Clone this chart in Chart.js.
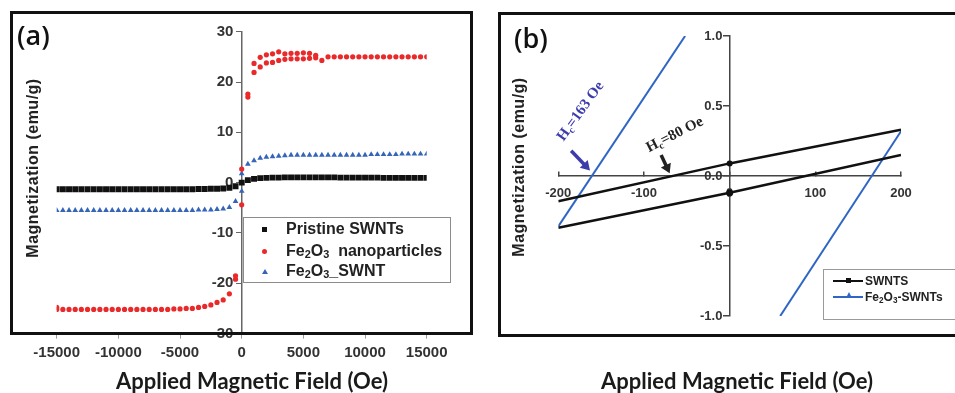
<!DOCTYPE html>
<html>
<head>
<meta charset="utf-8">
<title>Magnetization curves</title>
<script src="https://cdn.jsdelivr.net/npm/chart.js@4.4.1/dist/chart.umd.min.js"></script>
<style>
    body { margin: 0; width: 955px; height: 393px; position: relative; overflow: hidden; background: #fff; font-family: "Liberation Sans", Arial, sans-serif; color: #222; }
    canvas { position: absolute; top: 0; }
    .frame { position: absolute; box-sizing: border-box; border: 3px solid #111; pointer-events: none; }
    .tag { position: absolute; font-family: "Open Sans", sans-serif; font-weight: 600; line-height: 1; color: #111; white-space: nowrap; }
    .xtitle { position: absolute; transform: translateX(-50%); font-family: Lato, sans-serif; font-weight: 700; font-size: 22px; line-height: 23px; white-space: nowrap; color: #1a1a1a; }
    .ytitle { position: absolute; transform: translate(-50%, -50%) rotate(-90deg); font-weight: 700; font-size: 16px; line-height: 18px; letter-spacing: 0.5px; white-space: nowrap; color: #222; }
    .legend { position: absolute; box-sizing: border-box; background: #fff; }
    .legend .txt { position: absolute; font-weight: 700; white-space: nowrap; color: #222; }
    .legend sub { font-size: 68%; vertical-align: -2px; }
    .mk { position: absolute; }
</style>
</head>
<body>

<canvas id="chartA" width="480" height="393" style="left:0"></canvas>
<canvas id="chartB" width="465" height="393" style="left:490px"></canvas>

<div class="frame" style="left:10px;top:11px;width:463px;height:324px"></div>
<div class="frame" style="left:498px;top:12px;width:470px;height:325px;border-width:3.5px"></div>

<div class="tag" style="left:17px;top:21px;font-size:27px">(a)</div>
<div class="tag" style="left:514px;top:24px;font-size:27px">(b)</div>

<div class="ytitle" style="left:33px;top:168px">Magnetization (emu/g)</div>
<div class="ytitle" style="left:519px;top:167px">Magnetization (emu/g)</div>
<div class="xtitle" style="left:252px;top:369px">Applied Magnetic Field (Oe)</div>
<div class="xtitle" style="left:737px;top:369px">Applied Magnetic Field (Oe)</div>

<div class="legend" style="left:243px;top:217px;width:208px;height:66px;border:1.5px solid #8c8c8c">
    <div class="mk" style="left:18px;top:9px;width:5px;height:5px;background:#111"></div>
    <div class="txt" style="left:42px;top:1px;font-size:16px;line-height:20px">Pristine SWNTs</div>
    <div class="mk" style="left:18px;top:30.5px;width:5px;height:5px;border-radius:50%;background:#ea2a2a"></div>
    <div class="txt" style="left:42px;top:23px;font-size:16px;line-height:20px">Fe<sub>2</sub>O<sub>3</sub>&nbsp; nanoparticles</div>
    <div class="mk" style="left:17.5px;top:50.5px;width:0;height:0;border-left:3px solid transparent;border-right:3px solid transparent;border-bottom:5px solid #3565b8"></div>
    <div class="txt" style="left:42px;top:43px;font-size:16px;line-height:20px">Fe<sub>2</sub>O<sub>3</sub>_SWNT</div>
</div>

<div class="legend" style="left:823px;top:269px;width:150px;height:51px;border:1px solid #9a9a9a">
    <div class="mk" style="left:9px;top:9.5px;width:30px;height:2.5px;background:#111"></div>
    <div class="mk" style="left:22px;top:8.3px;width:5px;height:5px;background:#111"></div>
    <div class="txt" style="left:41px;top:3px;font-size:12px;line-height:16px">SWNTS</div>
    <div class="mk" style="left:9px;top:25.5px;width:30px;height:2px;background:#2f65c4"></div>
    <div class="mk" style="left:21.5px;top:22px;width:0;height:0;border-left:3.5px solid transparent;border-right:3.5px solid transparent;border-bottom:6px solid #2f65c4"></div>
    <div class="txt" style="left:41px;top:18.5px;font-size:12px;line-height:16px">Fe<sub>2</sub>O<sub>3</sub>-SWNTs</div>
</div>

<script>
// (a) M-H loops, field in Oe, magnetization in emu/g
const fieldOe = [-15000, -14500, -14000, -13500, -13000, -12500, -12000, -11500, -11000, -10500,
    -10000, -9500, -9000, -8500, -8000, -7500, -7000, -6500, -6000, -5500,
    -5000, -4500, -4000, -3500, -3000, -2500, -2000, -1500, -1000, -500,
    0, 500, 1000, 1500, 2000, 2500, 3000, 3500, 4000, 4500,
    5000, 5500, 6000, 6500, 7000, 7500, 8000, 8500, 9000, 9500,
    10000, 10500, 11000, 11500, 12000, 12500, 13000, 13500, 14000, 14500, 15000];

const pristineSwnt = [-1.3, -1.3, -1.3, -1.3, -1.3, -1.3, -1.3, -1.3, -1.3, -1.3,
    -1.3, -1.3, -1.3, -1.3, -1.3, -1.3, -1.3, -1.3, -1.3, -1.3,
    -1.3, -1.3, -1.3, -1.25, -1.25, -1.2, -1.2, -1.15, -1.0, -0.7,
    0.0, 0.5, 0.75, 0.9, 0.95, 1.0, 1.0, 1.05, 1.05, 1.05,
    1.05, 1.05, 1.05, 1.05, 1.05, 1.05, 1.0, 1.0, 1.0, 1.0,
    1.0, 1.0, 1.0, 0.95, 0.95, 0.95, 0.95, 0.95, 0.95, 0.95, 0.95];

const fe2o3 = [-25.2, -25.2, -25.2, -25.2, -25.2, -25.2, -25.2, -25.2, -25.2, -25.2,
    -25.2, -25.2, -25.2, -25.2, -25.2, -25.2, -25.2, -25.2, -25.2, -25.1,
    -25.1, -25.0, -25.0, -24.8, -24.6, -24.3, -23.8, -23.3, -22.1, -18.5,
    -4.4, 17.0, 21.9, 23.0, 23.8, 23.9, 24.3, 24.5, 24.6, 24.6,
    24.6, 24.7, 24.8, 24.3, 25.0, 25.0, 25.0, 25.0, 25.0, 25.0,
    25.0, 25.0, 25.0, 25.0, 25.0, 25.0, 25.0, 25.0, 25.0, 25.0, 25.0];

// second sweep of the nanoparticles, only where it separates from the first
const fe2o3ReturnField = [-15000, -500, 0, 500, 1000, 1500, 2000, 2500, 3000, 3500, 4000, 4500, 5000, 5500, 6000];
const fe2o3Return = [-24.8, -19.2, 2.7, 17.6, 23.7, 24.9, 25.4, 25.6, 26.0, 25.6, 25.7, 25.7, 25.8, 25.7, 25.3];

const fe2o3Swnt = [-5.5, -5.5, -5.5, -5.5, -5.5, -5.5, -5.5, -5.5, -5.5, -5.5,
    -5.5, -5.5, -5.5, -5.5, -5.5, -5.5, -5.5, -5.5, -5.5, -5.5,
    -5.5, -5.5, -5.5, -5.4, -5.4, -5.4, -5.3, -5.2, -4.9, -3.7,
    -1.7, 3.7, 4.4, 4.9, 5.1, 5.2, 5.3, 5.4, 5.5, 5.5,
    5.5, 5.5, 5.5, 5.5, 5.5, 5.5, 5.5, 5.5, 5.5, 5.5,
    5.5, 5.6, 5.6, 5.6, 5.6, 5.6, 5.7, 5.7, 5.7, 5.7, 5.7];
const fe2o3SwntReturnField = [0];
const fe2o3SwntReturn = [1.8];

const fieldTicksA = [-15000, -10000, -5000, 0, 5000, 10000, 15000];
const magTicksA = [-30, -20, -10, 0, 10, 20, 30];

// (b) low field zoom, field in Oe, magnetization in emu/g
const swntUpperField = [-200, 0, 200];
const swntUpper = [-0.18, 0.09, 0.33];
const swntLowerField = [-200, 0, 200];
const swntLower = [-0.37, -0.12, 0.15];
const fe2o3SwntDescField = [-52, -200];
const fe2o3SwntDesc = [1.0, -0.36];
const fe2o3SwntAscField = [59, 200];
const fe2o3SwntAsc = [-1.0, 0.32];

const fieldTicksB = [-200, -100, 0, 100, 200];
const magTicksB = [-1.0, -0.5, 0.0, 0.5, 1.0];

function toPoints(xs, ys) {
    return xs.map((x, i) => ({ x: x, y: ys[i] }));
}

const tickFontA = { family: '"Liberation Sans", Arial, sans-serif', weight: 'bold', size: 15 };
const tickFontB = { family: '"Liberation Sans", Arial, sans-serif', weight: 'bold', size: 13 };

// a y axis sitting at x = 0 puts its labels flush on the line, two spaces keep the gap
const gap = '  ';

// ---------- panel (a) ----------
const ctxA = document.getElementById('chartA').getContext('2d');
new Chart(ctxA, {
    type: 'scatter',
    data: {
        datasets: [
            { label: 'Fe2O3 nanoparticles', data: toPoints(fieldOe, fe2o3), pointStyle: 'circle', pointRadius: 2.6, backgroundColor: '#ea2a2a', borderColor: '#ea2a2a', borderWidth: 0, order: 1 },
            { label: 'Fe2O3 nanoparticles (return)', data: toPoints(fe2o3ReturnField, fe2o3Return), pointStyle: 'circle', pointRadius: 2.6, backgroundColor: '#ea2a2a', borderColor: '#ea2a2a', borderWidth: 0, order: 1 },
            { label: 'Fe2O3_SWNT', data: toPoints(fieldOe, fe2o3Swnt), pointStyle: 'triangle', pointRadius: 3.3, backgroundColor: '#3565b8', borderColor: '#3565b8', borderWidth: 0, order: 2 },
            { label: 'Fe2O3_SWNT (return)', data: toPoints(fe2o3SwntReturnField, fe2o3SwntReturn), pointStyle: 'triangle', pointRadius: 3.3, backgroundColor: '#3565b8', borderColor: '#3565b8', borderWidth: 0, order: 2 },
            { label: 'Pristine SWNTs', data: toPoints(fieldOe, pristineSwnt), pointStyle: 'rect', pointRadius: 4.2, backgroundColor: '#111', borderColor: '#111', borderWidth: 0, order: 3 }
        ]
    },
    options: {
        responsive: false,
        animation: false,
        layout: { padding: { left: 56.7, right: 53.3, top: 31.7, bottom: 0 } },
        plugins: { legend: { display: false }, tooltip: { enabled: false } },
        scales: {
            x: {
                type: 'linear',
                position: 'bottom',
                min: -15000,
                max: 15000,
                afterBuildTicks: (scale) => { scale.ticks = fieldTicksA.map(v => ({ value: v })); },
                afterFit: (scale) => { scale.height = 393 - 333.6; },
                ticks: { callback: v => String(v), font: tickFontA, color: '#333', padding: 5, maxRotation: 0 },
                grid: { drawOnChartArea: false, tickLength: 5, color: '#999' },
                border: { display: false }
            },
            y: {
                type: 'linear',
                position: { x: 0 },
                min: -30,
                max: 30,
                afterBuildTicks: (scale) => { scale.ticks = magTicksA.map(v => ({ value: v })); },
                ticks: { callback: v => String(v) + gap, font: tickFontA, color: '#333' },
                grid: { drawOnChartArea: false, tickLength: 5, color: '#666' },
                border: { color: '#666', width: 1.5 }
            }
        }
    }
});

// ---------- panel (b) ----------
const hcNotes = [
    { text: ['H', 'c', '=163 Oe'], at: [-194, 0.245], angle: -54, color: '#3c3cab', tail: [-185, 0.18], tip: [-163, 0.04] },
    { text: ['H', 'c', '=80 Oe'], at: [-94, 0.17], angle: -27, color: '#222', tail: [-80, 0.15], tip: [-70, 0.02] }
];

const coercivityNotes = {
    id: 'coercivityNotes',
    afterDatasetsDraw(chart) {
        const { ctx, scales: { x, y } } = chart;
        hcNotes.forEach(n => {
            const x0 = x.getPixelForValue(n.tail[0]), y0 = y.getPixelForValue(n.tail[1]);
            const x1 = x.getPixelForValue(n.tip[0]), y1 = y.getPixelForValue(n.tip[1]);
            const a = Math.atan2(y1 - y0, x1 - x0);
            const head = 9;
            ctx.save();
            ctx.strokeStyle = n.color;
            ctx.fillStyle = n.color;
            ctx.lineWidth = 3.5;
            ctx.beginPath();
            ctx.moveTo(x0, y0);
            ctx.lineTo(x1 - head * 0.8 * Math.cos(a), y1 - head * 0.8 * Math.sin(a));
            ctx.stroke();
            ctx.beginPath();
            ctx.moveTo(x1, y1);
            ctx.lineTo(x1 - head * Math.cos(a) + 5.5 * Math.sin(a), y1 - head * Math.sin(a) - 5.5 * Math.cos(a));
            ctx.lineTo(x1 - head * Math.cos(a) - 5.5 * Math.sin(a), y1 - head * Math.sin(a) + 5.5 * Math.cos(a));
            ctx.closePath();
            ctx.fill();

            // rotated label with subscript c
            ctx.translate(x.getPixelForValue(n.at[0]), y.getPixelForValue(n.at[1]));
            ctx.rotate(n.angle * Math.PI / 180);
            ctx.textBaseline = 'alphabetic';
            ctx.textAlign = 'left';
            const big = 'bold 15px "Liberation Serif", "Times New Roman", serif';
            const small = 'bold 10px "Liberation Serif", "Times New Roman", serif';
            ctx.font = big;
            ctx.fillText(n.text[0], 0, 0);
            let w = ctx.measureText(n.text[0]).width;
            ctx.font = small;
            ctx.fillText(n.text[1], w, 3);
            w += ctx.measureText(n.text[1]).width;
            ctx.font = big;
            ctx.fillText(n.text[2], w, 0);
            ctx.restore();
        });
    }
};

const ctxB = document.getElementById('chartB').getContext('2d');
new Chart(ctxB, {
    type: 'scatter',
    data: {
        datasets: [
            { label: 'SWNTS', data: toPoints(swntUpperField, swntUpper), showLine: true, borderColor: '#111', backgroundColor: '#111', borderWidth: 2.5, pointRadius: [0, 3, 0], pointBorderWidth: 0, pointStyle: 'circle' },
            { label: 'SWNTS (lower)', data: toPoints(swntLowerField, swntLower), showLine: true, borderColor: '#111', backgroundColor: '#111', borderWidth: 2.5, pointRadius: [0, 3.5, 0], pointBorderWidth: 0, pointStyle: 'circle' },
            { label: 'Fe2O3-SWNTs', data: toPoints(fe2o3SwntDescField, fe2o3SwntDesc), showLine: true, borderColor: '#2f65c4', borderWidth: 2, pointRadius: 0 },
            { label: 'Fe2O3-SWNTs (ascending)', data: toPoints(fe2o3SwntAscField, fe2o3SwntAsc), showLine: true, borderColor: '#2f65c4', borderWidth: 2, pointRadius: 0 }
        ]
    },
    options: {
        responsive: false,
        animation: false,
        layout: { padding: { left: 68.3, right: 54, top: 36, bottom: 77 } },
        plugins: { legend: { display: false }, tooltip: { enabled: false } },
        scales: {
            x: {
                type: 'linear',
                position: { y: 0 },
                min: -200,
                max: 200,
                afterBuildTicks: (scale) => { scale.ticks = fieldTicksB.map(v => ({ value: v })); },
                ticks: { callback: v => String(v), font: tickFontB, color: '#333', padding: 15, maxRotation: 0 },
                grid: { drawOnChartArea: false, tickLength: -5, color: '#444', lineWidth: 1.5 },
                border: { color: '#444', width: 1.5 }
            },
            y: {
                type: 'linear',
                position: { x: 0 },
                min: -1,
                max: 1,
                afterBuildTicks: (scale) => { scale.ticks = magTicksB.map(v => ({ value: v })); },
                ticks: { callback: v => Number(v).toFixed(1) + gap, font: tickFontB, color: '#333' },
                grid: { drawOnChartArea: false, tickLength: 6, color: '#444', lineWidth: 1.5 },
                border: { color: '#444', width: 1.5 }
            }
        }
    },
    plugins: [coercivityNotes]
});
</script>
</body>
</html>
